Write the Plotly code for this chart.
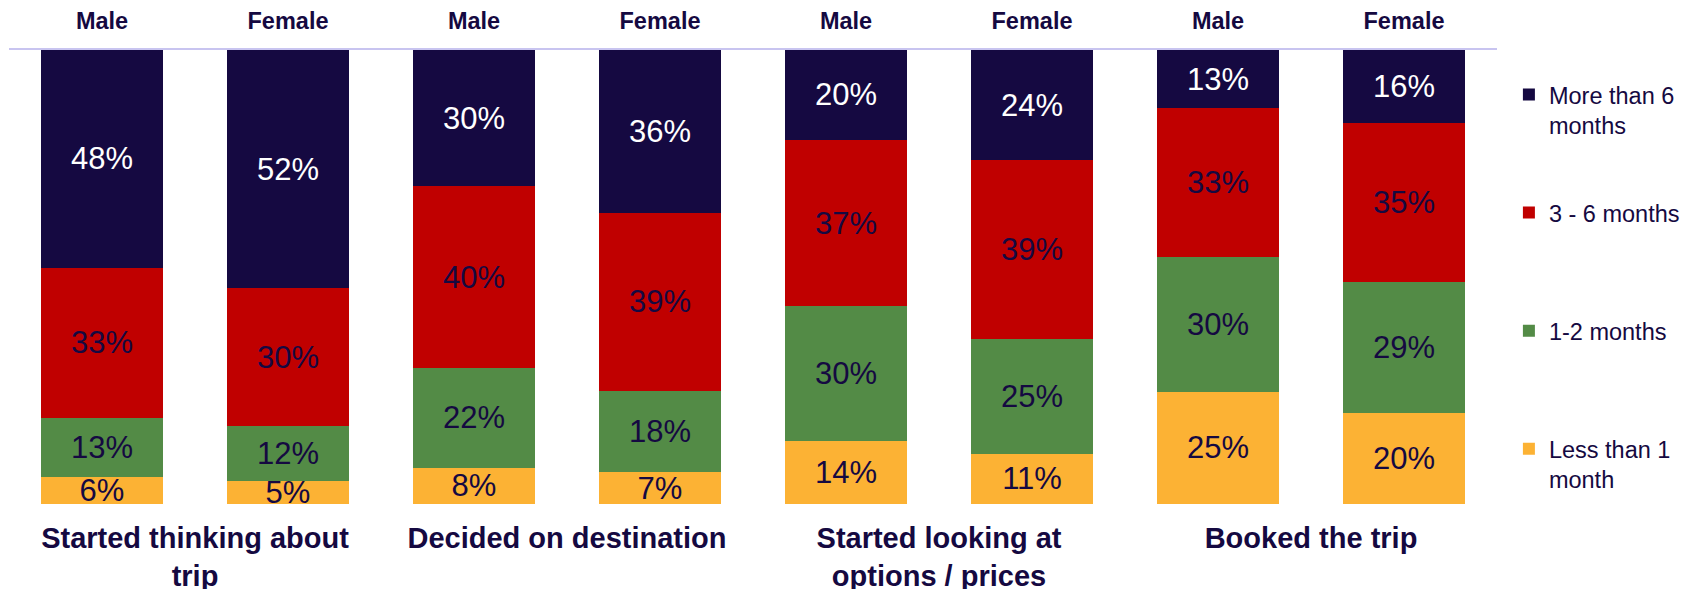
import plotly.graph_objects as go

# ---- data ----
stages = ["Started thinking about<br>trip", "Decided on destination",
          "Started looking at<br>options / prices", "Booked the trip"]
genders = ["Male", "Female", "Male", "Female", "Male", "Female", "Male", "Female"]

more_than_6 = [48, 52, 30, 36, 20, 24, 13, 16]
three_to_6 = [33, 30, 40, 39, 37, 39, 33, 35]
one_to_2 = [13, 12, 22, 18, 30, 25, 30, 29]
less_than_1 = [6, 5, 8, 7, 14, 11, 25, 20]

series_names = ["Less than 1<br>month", "1-2 months<br>\u00a0", "3 - 6 months<br>\u00a0", "More than 6<br>months"]
series_values = [less_than_1, one_to_2, three_to_6, more_than_6]
series_colors = ["#FCB234", "#538B46", "#C00000", "#150941"]
text_colors = ["#150941", "#150941", "#150941", "#FFFFFF"]
legend_ranks = [4, 3, 2, 1]

NAVY = "#150941"
FONT = "Liberation Sans, Arial, sans-serif"

xpos = list(range(len(genders)))
stage_pos = [0.5, 2.5, 4.5, 6.5]

fig = go.Figure()
for name, vals, col, tcol, rk in zip(series_names, series_values, series_colors, text_colors, legend_ranks):
    fig.add_trace(go.Bar(
        x=xpos, y=vals, name=name, legendgroup=name, legendrank=rk,
        marker=dict(color=col, line=dict(width=0)),
        text=[f"{v}%" for v in vals],
        textposition="inside", insidetextanchor="middle", textangle=0,
        textfont=dict(color=tcol, size=31, family=FONT),
        hoverinfo="skip",
    ))

fig.update_layout(
    width=1690, height=589,
    barmode="stack", barnorm="percent", bargap=0.34,
    plot_bgcolor="white", paper_bgcolor="white",
    margin=dict(l=9, r=193, t=50, b=85, autoexpand=False),
    uniformtext=dict(minsize=31, mode="show"),
    font=dict(family=FONT, color=NAVY),
    legend=dict(
        x=1.008, xanchor="left", y=0.95, yanchor="top",
        traceorder="grouped", tracegroupgap=54, valign="top",
        font=dict(size=23.5, color=NAVY, family=FONT),
        bgcolor="rgba(0,0,0,0)",
    ),
    xaxis=dict(
        range=[-0.5, 7.5], tickmode="array", tickvals=stage_pos, ticktext=stages,
        tickfont=dict(size=29, color=NAVY, family=FONT, weight="bold"),
        showline=False, showgrid=False, zeroline=False, ticks="",
        ticklabelstandoff=14, automargin=False,
    ),
    xaxis2=dict(
        range=[-0.5, 7.5], overlaying="x", side="top", matches="x",
        tickmode="array", tickvals=xpos, ticktext=genders,
        tickfont=dict(size=23.5, color=NAVY, family=FONT, weight="bold"),
        showline=True, linecolor="#C8C4F0", linewidth=2,
        showgrid=False, zeroline=False, ticks="", ticklabelstandoff=10,
        automargin=False,
    ),
    yaxis=dict(range=[0, 100], visible=False, showgrid=False, automargin=False),
)
# invisible anchor trace so the top axis is drawn
fig.add_trace(go.Scatter(x=xpos, y=[None] * len(xpos), xaxis="x2", showlegend=False,
                         hoverinfo="skip", mode="markers"))

fig.write_html("out.html", config={"displayModeBar": False},
               post_script="document.body.style.margin='0';")
